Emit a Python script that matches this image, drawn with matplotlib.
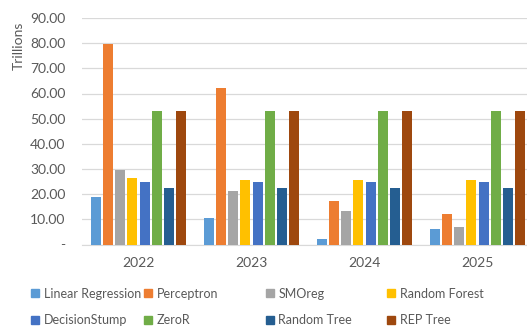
import matplotlib
matplotlib.use("Agg")
import matplotlib.pyplot as plt
import numpy as np
from matplotlib.patches import Patch
from matplotlib.ticker import FuncFormatter

years = ["2022", "2023", "2024", "2025"]
series_names = ["Linear Regression", "Perceptron", "SMOreg", "Random Forest",
                "DecisionStump", "ZeroR", "Random Tree", "REP Tree"]
linear_regression = [18.9, 10.7, 2.2, 6.2]
perceptron = [79.7, 62.0, 17.3, 12.0]
smoreg = [29.8, 21.3, 13.3, 7.0]
random_forest = [26.4, 25.8, 25.8, 25.8]
decision_stump = [25.0, 25.0, 25.0, 25.0]
zeror = [52.9, 52.9, 52.9, 52.9]
random_tree = [22.6, 22.6, 22.6, 22.6]
rep_tree = [52.9, 52.9, 52.9, 52.9]
values = [linear_regression, perceptron, smoreg, random_forest,
          decision_stump, zeror, random_tree, rep_tree]
colors = ["#5B9BD5", "#ED7D31", "#A5A5A5", "#FFC000",
          "#4472C4", "#70AD47", "#255E91", "#9E480E"]

plt.rcParams['font.family'] = ['Lato', 'DejaVu Sans']
txt = "#595959"

fig = plt.figure(figsize=(5.27, 3.27), dpi=100)
ax = fig.add_axes([82/527, 1-244.5/327, (534-82)/527, (244.5-18)/327])

x = np.arange(len(years))
pitch = 0.108
width = 0.088
n = len(series_names)
for i, (name, vals, c) in enumerate(zip(series_names, values, colors)):
    ax.bar(x + (i - (n-1)/2) * pitch, vals, width, color=c, label=name, zorder=3)

ax.set_xlim(-0.5, len(years) - 0.5)
ax.set_ylim(0, 90)
ax.set_yticks(np.arange(0, 91, 10))
ax.yaxis.set_major_formatter(FuncFormatter(lambda v, p: "-" if v == 0 else f"{v:.2f}"))
ax.set_xticks(x)
ax.set_xticklabels(years)
ax.tick_params(axis='both', length=0, colors=txt, labelsize=10)
ax.tick_params(axis='x', pad=9)
ax.tick_params(axis='y', pad=12)
ax.grid(axis='y', color="#D9D9D9", linewidth=0.9, zorder=0)
for s in ['top', 'right', 'left']:
    ax.spines[s].set_visible(False)
ax.spines['bottom'].set_color("#D9D9D9")
ax.set_ylabel("Trillions", color=txt, fontsize=10)
ax.yaxis.set_label_coords(-0.126, 0.878)

handles = [Patch(color=c) for c in colors]
col_x = [31, 144, 266, 387]
for col in range(4):
    h = [handles[col], handles[col + 4]]
    l = [series_names[col], series_names[col + 4]]
    leg = fig.legend(h, l, loc='upper left', bbox_to_anchor=(col_x[col]/527, 1-287.5/327),
                     frameon=False, fontsize=9, handlelength=0.6, handleheight=0.6,
                     handletextpad=0.4, labelspacing=1.2, borderaxespad=0, borderpad=0)
    for t in leg.get_texts():
        t.set_color(txt)

fig.savefig("out.png", dpi=100)
